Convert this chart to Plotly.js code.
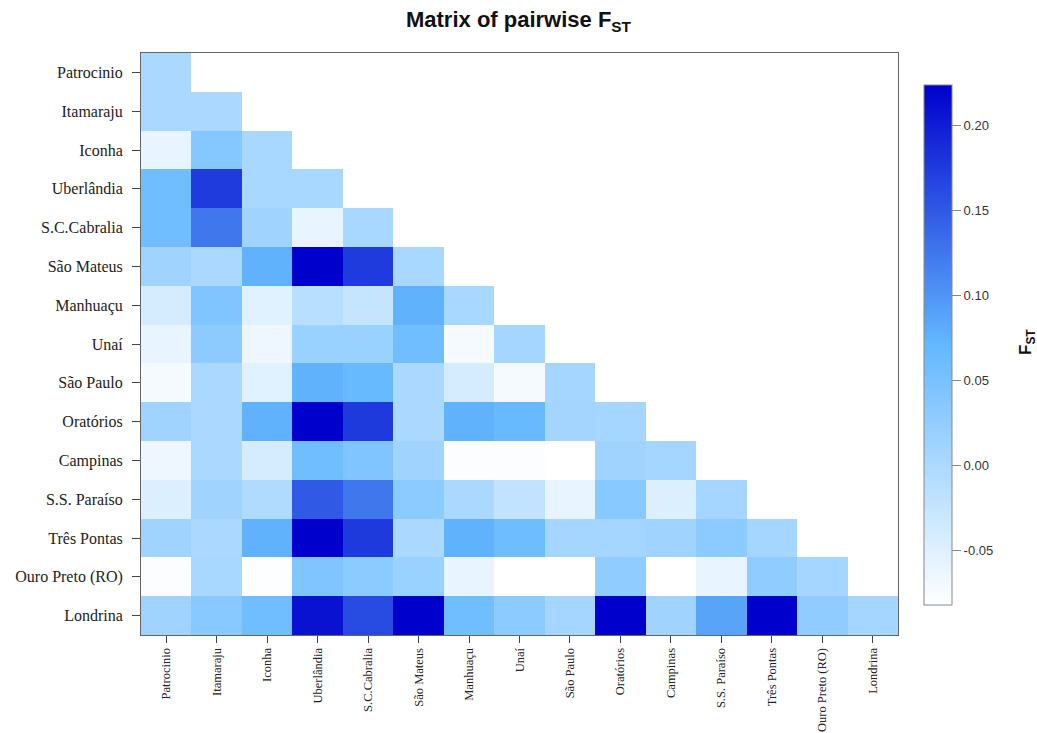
<!DOCTYPE html>
<html>
<head>
<meta charset="utf-8">
<script src="https://cdn.plot.ly/plotly-3.0.1.min.js"></script>
<style>
  html, body { margin: 0; padding: 0; background: #ffffff; }
  #chart { width: 1037px; height: 733px; }
</style>
</head>
<body>
<div id="chart"></div>
<script>
// Population names (row / column order of the matrix)
const populations = [
  "Patrocinio", "Itamaraju", "Iconha", "Uberlândia", "S.C.Cabralia",
  "São Mateus", "Manhuaçu", "Unaí", "São Paulo", "Oratórios",
  "Campinas", "S.S. Paraíso", "Três Pontas", "Ouro Preto (RO)", "Londrina"
];

// Lower-triangular pairwise FST, one row per population
const fstPatrocinio = [0.001];
const fstItamaraju  = [0.001, 0.001];
const fstIconha     = [-0.059, 0.038, 0.003];
const fstUberlandia = [0.058, 0.175, 0.003, 0.003];
const fstCabralia   = [0.058, 0.125, 0.011, -0.059, 0.003];
const fstSaoMateus  = [0.011, 0.001, 0.076, 0.224, 0.175, 0.003];
const fstManhuacu   = [-0.041, 0.043, -0.052, -0.012, -0.025, 0.076, 0.003];
const fstUnai       = [-0.059, 0.030, -0.065, 0.018, 0.018, 0.058, -0.072, 0.006];
const fstSaoPaulo   = [-0.072, 0.001, -0.052, 0.076, 0.066, 0.001, -0.041, -0.072, 0.006];
const fstOratorios  = [0.011, 0.001, 0.076, 0.224, 0.177, 0.001, 0.076, 0.066, 0.008, 0.006];
const fstCampinas   = [-0.065, 0.001, -0.041, 0.058, 0.043, 0.011, -0.078, -0.078, -0.082, 0.011, 0.006];
const fstParaiso    = [-0.048, 0.011, -0.005, 0.150, 0.125, 0.031, 0.001, -0.022, -0.059, 0.035, -0.048, 0.006];
const fstTresPontas = [0.011, 0.001, 0.076, 0.224, 0.177, 0.001, 0.076, 0.060, 0.006, 0.006, 0.011, 0.031, 0.006];
const fstOuroPreto  = [-0.078, 0.003, -0.080, 0.043, 0.031, 0.018, -0.059, -0.082, -0.082, 0.027, -0.082, -0.059, 0.027, 0.006];
const fstLondrina   = [0.011, 0.035, 0.058, 0.209, 0.162, 0.224, 0.058, 0.031, 0.006, 0.224, 0.011, 0.088, 0.224, 0.027, 0.006];

const colorbarTicks = [-0.05, 0.00, 0.05, 0.10, 0.15, 0.20];

const rows = [
  fstPatrocinio, fstItamaraju, fstIconha, fstUberlandia, fstCabralia,
  fstSaoMateus, fstManhuacu, fstUnai, fstSaoPaulo, fstOratorios,
  fstCampinas, fstParaiso, fstTresPontas, fstOuroPreto, fstLondrina
];

// Pad each row with nulls so the upper triangle stays empty
const z = rows.map(r => populations.map((_, j) => (j < r.length ? r[j] : null)));

const serif = "Liberation Serif, Times New Roman, serif";
const sans = "Liberation Sans, Arial, sans-serif";

const trace = {
  type: "heatmap",
  x: populations,
  y: populations,
  z: z,
  zmin: -0.082,
  zmax: 0.224,
  colorscale: [[0, "#FFFFFF"], [0.5, "#63B8FF"], [1, "#0000CD"]],
  hoverongaps: false,
  colorbar: {
    x: 1.021, xanchor: "left",
    y: 0.499, yanchor: "middle",
    len: 540, lenmode: "pixels",
    thickness: 28, thicknessmode: "pixels",
    outlinecolor: "#888", outlinewidth: 1,
    ticks: "outside", ticklen: 9, tickcolor: "#888",
    tickvals: colorbarTicks,
    ticktext: colorbarTicks.map(v => v.toFixed(2)),
    tickfont: { family: sans, size: 13, color: "#333" },
    title: { text: "" }
  }
};

const layout = {
  width: 1037,
  height: 733,
  margin: { l: 141, r: 139, t: 53, b: 98 },
  paper_bgcolor: "#ffffff",
  plot_bgcolor: "#ffffff",
  title: {
    text: "<b>Matrix of pairwise F<sub>ST</sub></b>",
    x: 0.5, xanchor: "center",
    y: 0.973, yanchor: "middle",
    font: { family: sans, size: 22, color: "#111" }
  },
  xaxis: {
    type: "category",
    tickangle: -90,
    ticks: "outside", ticklen: 7, tickcolor: "#444",
    tickfont: { family: serif, size: 12.5, color: "#222" },
    showline: true, linecolor: "#666", linewidth: 1, mirror: true,
    showgrid: false, zeroline: false
  },
  yaxis: {
    type: "category",
    autorange: "reversed",
    ticks: "outside", ticklen: 8, tickcolor: "#444",
    ticklabelstandoff: 6,
    tickfont: { family: serif, size: 16, color: "#222" },
    showline: true, linecolor: "#666", linewidth: 1, mirror: true,
    showgrid: false, zeroline: false
  },
  annotations: [{
    text: "<b>F<sub>ST</sub></b>",
    xref: "paper", yref: "paper",
    x: (1027 - 141) / 757, y: (635 - 342) / 582,
    xanchor: "center", yanchor: "middle",
    textangle: -90,
    showarrow: false,
    font: { family: sans, size: 17, color: "#111" }
  }]
};

Plotly.newPlot("chart", [trace], layout, { displayModeBar: false, staticPlot: true });
</script>
</body>
</html>
